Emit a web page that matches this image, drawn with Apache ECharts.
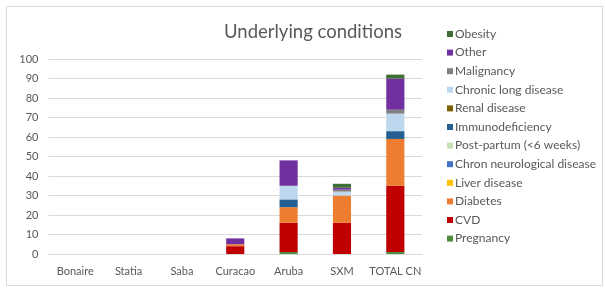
<!DOCTYPE html>
<html>
<head>
<meta charset="utf-8">
<script src="https://cdn.jsdelivr.net/npm/echarts@6/dist/echarts.min.js"></script>
<style>
  html, body { margin: 0; padding: 0; background: #fff; }
  #chart { width: 605px; height: 288px; }
</style>
</head>
<body>
<div id="chart"></div>
<script>
// categories on the x axis
const islands = ['Bonaire', 'Statia', 'Saba', 'Curacao', 'Aruba', 'SXM', 'TOTAL CN'];
const yTicks = [0, 10, 20, 30, 40, 50, 60, 70, 80, 90, 100];

// values per condition (stack order bottom -> top)
const pregnancy      = [0, 0, 0, 0, 1, 0, 1];
const cvd            = [0, 0, 0, 4, 15, 16, 34];
const diabetes       = [0, 0, 0, 1, 8, 14, 24];
const liverDisease   = [0, 0, 0, 0, 0, 0, 0];
const chronNeuro     = [0, 0, 0, 0, 0, 0, 0];
const postPartum     = [0, 0, 0, 0, 0, 0, 0];
const immunodef      = [0, 0, 0, 0, 4, 0, 4];
const renalDisease   = [0, 0, 0, 0, 0, 0, 0];
const chronicLung    = [0, 0, 0, 0, 7, 2, 9];
const malignancy     = [0, 0, 0, 0, 0, 1, 2];
const other          = [0, 0, 0, 3, 13, 1, 16];
const obesity        = [0, 0, 0, 0, 0, 2, 2];

const conditions = [
    { name: 'Pregnancy', data: pregnancy, color: '#4e8c3c' },
    { name: 'CVD', data: cvd, color: '#c00000' },
    { name: 'Diabetes', data: diabetes, color: '#ed7d31' },
    { name: 'Liver disease', data: liverDisease, color: '#ffc000' },
    { name: 'Chron neurological disease', data: chronNeuro, color: '#4472c4' },
    { name: 'Post-partum (<6 weeks)', data: postPartum, color: '#c5e0b4' },
    { name: 'Immunodeficiency', data: immunodef, color: '#255e91' },
    { name: 'Renal disease', data: renalDisease, color: '#7f6000' },
    { name: 'Chronic long disease', data: chronicLung, color: '#bdd7ee' },
    { name: 'Malignancy', data: malignancy, color: '#808080' },
    { name: 'Other', data: other, color: '#7030a0' },
    { name: 'Obesity', data: obesity, color: '#3f6e34' }
];

const chart = echarts.init(document.getElementById('chart'));
const fontFamily = 'Lato, "Open Sans", sans-serif';

const option = {
    animation: false,
    textStyle: { fontFamily: fontFamily },
    title: {
        text: 'Underlying conditions',
        left: 308,
        textAlign: 'center',
        top: 18,
        textStyle: { fontSize: 18.5, fontWeight: 'normal', color: '#595959', fontFamily: fontFamily }
    },
    graphic: [
        {
            type: 'rect',
            shape: { x: 6.5, y: 6.5, width: 596, height: 279 },
            style: { fill: 'none', stroke: '#d9d9d9', lineWidth: 1 },
            silent: true
        }
    ],
    legend: {
        orient: 'vertical',
        left: 442,
        top: 23,
        itemWidth: 6,
        itemHeight: 6,
        itemGap: 6.6,
        icon: 'rect',
        data: conditions.map(c => c.name).reverse(),
        textStyle: { fontSize: 12, color: '#595959', lineHeight: 12, padding: [0, 0, 0, -3] }
    },
    grid: { left: 48.5, right: 183, top: 59, bottom: 34, containLabel: false },
    xAxis: {
        type: 'category',
        data: islands,
        axisLine: { lineStyle: { color: '#d9d9d9' } },
        axisTick: { show: false },
        axisLabel: { color: '#595959', fontSize: 11, margin: 12, interval: 0 }
    },
    yAxis: {
        type: 'value',
        min: yTicks[0],
        max: yTicks[yTicks.length - 1],
        interval: 10,
        axisLine: { show: false },
        axisTick: { show: false },
        axisLabel: { color: '#595959', fontSize: 11, margin: 10 },
        splitLine: { lineStyle: { color: '#d9d9d9' } }
    },
    series: conditions.map(c => ({
        name: c.name,
        type: 'bar',
        stack: 'total',
        barCategoryGap: '66%',
        data: c.data,
        itemStyle: { color: c.color }
    }))
};

chart.setOption(option);
</script>
</body>
</html>
